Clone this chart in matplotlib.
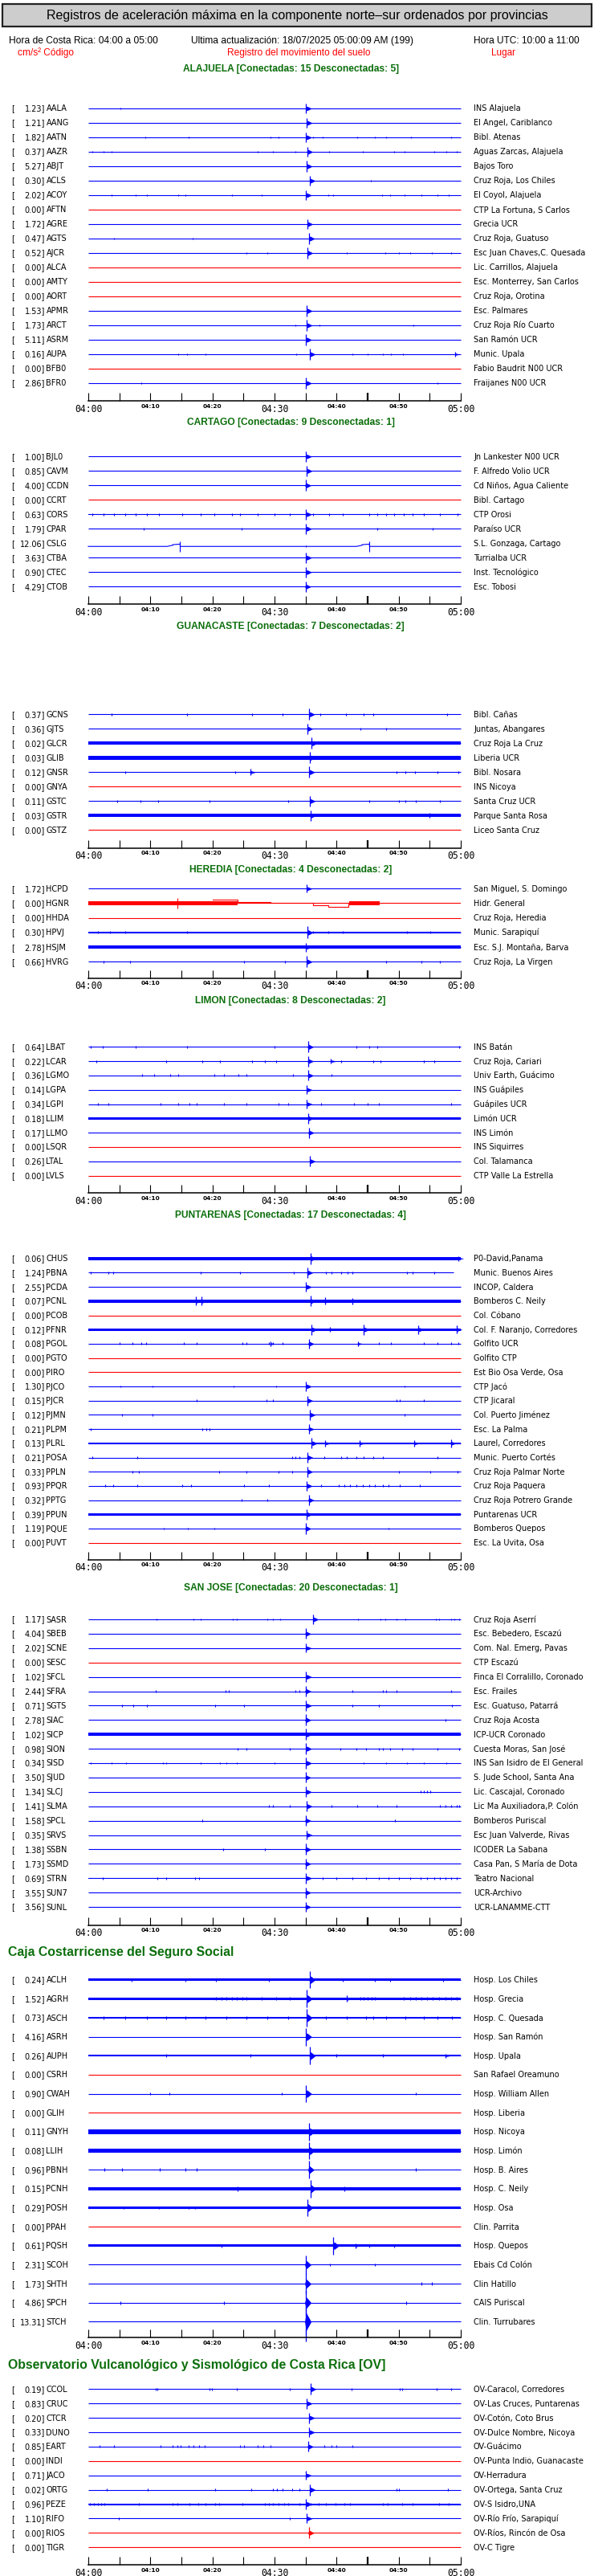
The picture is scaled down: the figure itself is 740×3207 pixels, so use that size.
import matplotlib
matplotlib.use("Agg")
import matplotlib.pyplot as plt
from matplotlib.patches import Rectangle

# ===============================
# DATOS (estaciones por provincia)
# ===============================
alajuela_codes = ["AALA", "AANG", "AATN", "AAZR", "ABJT", "ACLS", "ACOY", "AFTN", "AGRE", "AGTS",
                  "AJCR", "ALCA", "AMTY", "AORT", "APMR", "ARCT", "ASRM", "AUPA", "BFB0", "BFR0"]
alajuela_vals = [1.23, 1.21, 1.82, 0.37, 5.27, 0.30, 2.02, 0.00, 1.72, 0.47,
                 0.52, 0.00, 0.00, 0.00, 1.53, 1.73, 5.11, 0.16, 0.00, 2.86]
alajuela_names = ["INS Alajuela", "El Angel, Cariblanco", "Bibl. Atenas", "Aguas Zarcas, Alajuela",
                  "Bajos Toro", "Cruz Roja, Los Chiles", "El Coyol, Alajuela", "CTP La Fortuna, S Carlos",
                  "Grecia UCR", "Cruz Roja, Guatuso", "Esc Juan Chaves,C. Quesada", "Lic. Carrillos, Alajuela",
                  "Esc. Monterrey, San Carlos", "Cruz Roja, Orotina", "Esc. Palmares", "Cruz Roja Río Cuarto",
                  "San Ramón UCR", "Munic. Upala", "Fabio Baudrit N00 UCR", "Fraijanes N00 UCR"]
# hora del evento principal (minutos despues de 04:00) y semi-amplitud (en alturas de fila)
alajuela_ev_t = [35.1, 35.2, 35.1, 35.3, 35.2, 35.7, 35.1, None, 35.3, 35.6,
                 35.3, None, None, None, 35.2, 35.2, 35.1, 35.7, None, 35.1]
alajuela_ev_a = [0.35, 0.36, 0.36, 0.36, 0.38, 0.36, 0.36, 0, 0.36, 0.38,
                 0.38, 0, 0, 0, 0.39, 0.37, 0.39, 0.37, 0, 0.38]

cartago_codes = ["BJL0", "CAVM", "CCDN", "CCRT", "CORS", "CPAR", "CSLG", "CTBA", "CTEC", "CTOB"]
cartago_vals = [1.00, 0.85, 4.00, 0.00, 0.63, 1.79, 12.06, 3.63, 0.90, 4.29]
cartago_names = ["Jn Lankester N00 UCR", "F. Alfredo Volio UCR", "Cd Niños, Agua Caliente", "Bibl. Cartago",
                 "CTP Orosi", "Paraíso UCR", "S.L. Gonzaga, Cartago", "Turrialba UCR",
                 "Inst. Tecnológico", "Esc. Tobosi"]
cartago_ev_t = [35.1, 35.2, 35.0, None, 35.1, 35.1, None, 35.1, 35.1, 35.0]
cartago_ev_a = [0.35, 0.37, 0.39, 0, 0.36, 0.37, 0, 0.37, 0.37, 0.35]

guanacaste_codes = ["GCNS", "GJTS", "GLCR", "GLIB", "GNSR", "GNYA", "GSTC", "GSTR", "GSTZ"]
guanacaste_vals = [0.37, 0.36, 0.02, 0.03, 0.12, 0.00, 0.11, 0.03, 0.00]
guanacaste_names = ["Bibl. Cañas", "Juntas, Abangares", "Cruz Roja La Cruz", "Liberia UCR", "Bibl. Nosara",
                    "INS Nicoya", "Santa Cruz UCR", "Parque Santa Rosa", "Liceo Santa Cruz"]
guanacaste_ev_t = [35.6, 35.3, 36.0, 35.7, 35.6, None, 35.7, 35.8, None]
guanacaste_ev_a = [0.39, 0.36, 0.39, 0.39, 0.39, 0, 0.36, 0.36, 0]

heredia_codes = ["HCPD", "HGNR", "HHDA", "HPVJ", "HSJM", "HVRG"]
heredia_vals = [1.72, 0.00, 0.00, 0.30, 2.78, 0.66]
heredia_names = ["San Miguel, S. Domingo", "Hidr. General", "Cruz Roja, Heredia", "Munic. Sarapiquí",
                 "Esc. S.J. Montaña, Barva", "Cruz Roja, La Virgen"]
heredia_ev_t = [35.2, None, None, 35.3, 35.1, 35.2]
heredia_ev_a = [0.28, 0, 0, 0.41, 0.30, 0.38]

limon_codes = ["LBAT", "LCAR", "LGMO", "LGPA", "LGPI", "LLIM", "LLMO", "LSQR", "LTAL", "LVLS"]
limon_vals = [0.64, 0.22, 0.36, 0.14, 0.34, 0.18, 0.17, 0.00, 0.26, 0.00]
limon_names = ["INS Batán", "Cruz Roja, Cariari", "Univ Earth, Guácimo", "INS Guápiles", "Guápiles UCR",
               "Limón UCR", "INS Limón", "INS Siquirres", "Col. Talamanca", "CTP Valle La Estrella"]
limon_ev_t = [35.4, 35.4, 35.4, 35.2, 35.2, 35.4, 35.5, None, 35.7, None]
limon_ev_a = [0.39, 0.36, 0.36, 0.31, 0.31, 0.36, 0.36, 0, 0.36, 0]

puntarenas_codes = ["CHUS", "PBNA", "PCDA", "PCNL", "PCOB", "PFNR", "PGOL", "PGTO", "PIRO", "PJCO", "PJCR",
                    "PJMN", "PLPM", "PLRL", "POSA", "PPLN", "PPQR", "PPTG", "PPUN", "PQUE", "PUVT"]
puntarenas_vals = [0.06, 1.24, 2.55, 0.07, 0.00, 0.12, 0.08, 0.00, 0.00, 1.30, 0.15,
                   0.12, 0.21, 0.13, 0.21, 0.33, 0.93, 0.32, 0.39, 1.19, 0.00]
puntarenas_names = ["P0-David,Panama", "Munic. Buenos Aires", "INCOP, Caldera", "Bomberos C. Neily",
                    "Col. Cóbano", "Col. F. Naranjo, Corredores", "Golfito UCR", "Golfito CTP",
                    "Est Bio Osa Verde, Osa", "CTP Jacó", "CTP Jicaral", "Col. Puerto Jiménez",
                    "Esc. La Palma", "Laurel, Corredores", "Munic. Puerto Cortés", "Cruz Roja Palmar Norte",
                    "Cruz Roja Paquera", "Cruz Roja Potrero Grande", "Puntarenas UCR", "Bomberos Quepos",
                    "Esc. La Uvita, Osa"]
puntarenas_ev_t = [35.8, 35.3, 35.1, 35.8, None, 36.0, 35.5, None, None, 35.1, 35.3,
                   35.7, 35.5, 36.0, 35.3, 35.3, 35.2, 35.5, 35.2, 35.0, None]
puntarenas_ev_a = [0.39, 0.36, 0.36, 0.36, 0, 0.36, 0.36, 0, 0, 0.35, 0.35,
                   0.36, 0.33, 0.36, 0.36, 0.36, 0.36, 0.36, 0.36, 0.39, 0]

sanjose_codes = ["SASR", "SBEB", "SCNE", "SESC", "SFCL", "SFRA", "SGTS", "SIAC", "SICP", "SION", "SISD",
                 "SJUD", "SLCJ", "SLMA", "SPCL", "SRVS", "SSBN", "SSMD", "STRN", "SUN7", "SUNL"]
sanjose_vals = [1.17, 4.04, 2.02, 0.00, 1.02, 2.44, 0.71, 2.78, 1.02, 0.98, 0.34,
                3.50, 1.34, 1.41, 1.58, 0.35, 1.38, 1.73, 0.69, 3.55, 3.56]
sanjose_names = ["Cruz Roja Aserrí", "Esc. Bebedero, Escazú", "Com. Nal. Emerg, Pavas", "CTP Escazú",
                 "Finca El Corralillo, Coronado", "Esc. Frailes", "Esc. Guatuso, Patarrá", "Cruz Roja Acosta",
                 "ICP-UCR Coronado", "Cuesta Moras, San José", "INS San Isidro de El General",
                 "S. Jude School, Santa Ana", "Lic. Cascajal, Coronado", "Lic Ma Auxiliadora,P. Colón",
                 "Bomberos Puriscal", "Esc Juan Valverde, Rivas", "ICODER La Sabana",
                 "Casa Pan, S María de Dota", "Teatro Nacional", "UCR-Archivo", "UCR-LANAMME-CTT"]
sanjose_ev_t = [36.2, 35.0, 35.1, None, 35.1, 35.0, 35.1, 35.0, 35.1, 35.1, 35.1,
                35.0, 35.1, 35.2, 35.0, 35.2, 35.0, 35.0, 35.1, 35.0, 35.0]
sanjose_ev_a = [0.36, 0.36, 0.31, 0, 0.36, 0.39, 0.36, 0.39, 0.39, 0.39, 0.39,
                0.36, 0.36, 0.36, 0.36, 0.33, 0.39, 0.36, 0.36, 0.36, 0.36]

ccss_codes = ["ACLH", "AGRH", "ASCH", "ASRH", "AUPH", "CSRH", "CWAH", "GLIH", "GNYH", "LLIH",
              "PBNH", "PCNH", "POSH", "PPAH", "PQSH", "SCOH", "SHTH", "SPCH", "STCH"]
ccss_vals = [0.24, 1.52, 0.73, 4.16, 0.26, 0.00, 0.90, 0.00, 0.11, 0.08,
             0.96, 0.15, 0.29, 0.00, 0.61, 2.31, 1.73, 4.86, 13.31]
ccss_names = ["Hosp. Los Chiles", "Hosp. Grecia", "Hosp. C. Quesada", "Hosp. San Ramón", "Hosp. Upala",
              "San Rafael Oreamuno", "Hosp. William Allen", "Hosp. Liberia", "Hosp. Nicoya", "Hosp. Limón",
              "Hosp. B. Aires", "Hosp. C. Neily", "Hosp. Osa", "Clin. Parrita", "Hosp. Quepos",
              "Ebais Cd Colón", "Clin Hatillo", "CAIS Puriscal", "Clin. Turrubares"]
ccss_ev_t = [35.7, 35.2, 35.2, 35.1, 35.7, None, 35.1, None, 35.6, 35.6,
             35.5, 35.8, 35.3, None, 39.5, 35.0, 35.0, 35.0, 35.0]
ccss_ev_a = [0.44, 0.46, 0.46, 0.46, 0.46, 0, 0.46, 0, 0.46, 0.46,
             0.46, 0.46, 0.46, 0, 0.46, 0.5, 0.55, 0.68, 1.05]

ov_codes = ["CCOL", "CRUC", "CTCR", "DUNO", "EART", "INDI", "JACO", "ORTG", "PEZE", "RIFO", "RIOS", "TIGR"]
ov_vals = [0.19, 0.83, 0.20, 0.33, 0.85, 0.00, 0.71, 0.02, 0.96, 1.10, 0.00, 0.00]
ov_names = ["OV-Caracol, Corredores", "OV-Las Cruces, Puntarenas", "OV-Cotón, Coto Brus",
            "OV-Dulce Nombre, Nicoya", "OV-Guácimo", "OV-Punta Indio, Guanacaste", "OV-Herradura",
            "OV-Ortega, Santa Cruz", "OV-S Isidro,UNA", "OV-Río Frío, Sarapiquí", "OV-Ríos, Rincón de Osa",
            "OV-C Tigre"]
ov_ev_t = [35.8, 35.2, 35.6, 35.6, 35.4, None, 35.1, 35.7, 35.1, 35.2, 35.5, None]
ov_ev_a = [0.40, 0.36, 0.36, 0.36, 0.36, 0, 0.31, 0.39, 0.39, 0.33, 0.39, 0]

# ruido de fondo (semi-ancho de la banda, en alturas de fila)
noise = {"GLCR": 0.12, "GLIB": 0.13, "GSTR": 0.11, "HSJM": 0.09, "HPVJ": 0.04, "LLIM": 0.08,
         "LLMO": 0.03, "CHUS": 0.11, "PCNL": 0.11, "PFNR": 0.08, "PLRL": 0.07, "PPUN": 0.08,
         "SICP": 0.10, "STRN": 0.03, "CORS": 0.03, "ACLH": 0.06, "AGRH": 0.06, "ASCH": 0.03,
         "AUPH": 0.05, "GNYH": 0.12, "LLIH": 0.09, "PCNH": 0.08, "POSH": 0.06, "PQSH": 0.06,
         "PEZE": 0.02}

# picos secundarios (minuto, semi-amplitud)
extra_spikes = {
    "GNSR": [(26.1, 0.22)], "GSTR": [(54.9, 0.17)], "LCAR": [(39.1, 0.17)],
    "CHUS": [(59.6, 0.17)], "AUPA": [(59.1, 0.14)],
    "PCNL": [(17.3, 0.31), (18.2, 0.31), (38.2, 0.25), (42.6, 0.22)],
    "PFNR": [(38.9, 0.17), (44.4, 0.36), (53.2, 0.31), (59.3, 0.28)],
    "PGOL": [(29.3, 0.15), (43.4, 0.17)],
    "PLRL": [(38.2, 0.22), (43.7, 0.22), (52.5, 0.22), (58.4, 0.28)],
    "AGRH": [(41.6, 0.17)], "AUPH": [(57.5, 0.1)], "PCNH": [(24.1, 0.13), (41.3, 0.13)],
    "PQSH": [(43.0, 0.13)], "CSLG": [(14.8, 0.37), (45.3, 0.37)],
}

# pequeñas marcas de ruido (minuto)
blips = {
    "AALA": [5.2], "AATN": [9.2, 16.1, 29.4, 30.6, 36.2, 37.8, 43.3, 46.1, 48.0, 52.0, 58.4],
    "AAZR": [0.7, 2.4, 3.8, 27.3, 29.7, 33.4, 38.8, 44.2, 49.3, 51.0, 55.7, 57.7, 59.3],
    "ACLS": [45.5],
    "ACOY": [3.7, 7.6, 9.4, 14.5, 15.7, 23.1, 27.9, 38.6, 39.5, 47.3, 48.6, 51.0, 53.7, 56.3, 58.1],
    "AGTS": [4.1, 16.8], "AJCR": [25.5, 28.8, 41.6, 47.9, 50.1, 51.8, 55.4, 58.4],
    "ARCT": [33.3, 37.2, 52.4], "AUPA": [14.5, 15.9, 18.9, 33.5, 42.5, 45.0, 47.4, 48.8, 50.7],
    "BFR0": [8.5, 56.3],
    "CORS": [0.7, 2.4, 4.1, 5.9, 7.6, 9.4, 11.4, 15.1, 18.1, 20.3, 23.1, 24.4, 27.3, 30.0, 32.5,
             36.2, 38.8, 41.0, 45.3, 46.5, 48.0, 49.3, 50.8, 52.3, 54.0, 56.6, 59.5],
    "CPAR": [8.9, 24.7, 46.5, 55.5],
    "GCNS": [3.7, 15.9, 26.4, 31.3, 37.4, 41.5, 44.4, 45.9, 57.8], "GJTS": [43.9, 48.0],
    "GNSR": [5.9, 23.6, 49.7, 51.1, 52.6, 56.3, 59.6],
    "GSTC": [4.6, 8.4, 11.3, 19.5, 32.2, 45.2, 50.0, 51.1, 52.7, 56.6],
    "HPVJ": [1.5, 3.5, 5.9, 15.9, 36.2, 38.6, 41.0, 51.4, 55.1],
    "HVRG": [2.4, 6.7, 25.1, 31.7, 48.0, 53.7, 56.6],
    "LBAT": [0.4, 2.3, 7.6, 15.9, 30.0, 43.2, 45.3, 46.5, 59.8],
    "LCAR": [1.3, 12.6, 18.4, 21.2, 26.4, 28.5, 30.2, 40.7, 45.9, 47.1, 54.0, 55.7],
    "LGMO": [8.7, 10.6, 13.2, 14.5, 20.3, 21.8, 24.2, 25.5, 33.0, 39.2],
    "LGPI": [1.5, 3.2, 11.7, 14.5, 16.3, 17.5, 21.8, 25.5, 30.6, 32.2, 37.5, 42.8, 45.0, 46.8, 58.4],
    "PBNA": [0.4, 3.2, 4.0, 18.1, 24.4, 33.1, 38.3, 39.2, 40.7, 41.8, 42.5, 51.4, 52.3, 55.7],
    "PGOL": [5.1, 7.1, 8.5, 9.3, 15.4, 17.5, 24.8, 25.5, 29.1, 29.7, 31.3, 46.8, 48.8, 54.1, 56.3, 58.4, 59.6],
    "PJCO": [5.2, 10.4, 23.4, 30.2, 50.9], "PJCR": [17.4, 28.7, 29.7, 49.6, 50.2, 54.1],
    "PJMN": [5.4, 10.4, 50.9], "PLPM": [0.4, 18.4, 19.0, 19.5],
    "POSA": [0.7, 7.9, 32.8, 33.4, 34.0, 38.0, 40.7, 41.6, 43.2, 44.4, 45.9, 47.4, 56.3],
    "PPLN": [7.1, 8.1, 21.1, 25.5, 30.6, 32.8, 50.0, 55.1, 59.5],
    "PPQR": [2.7, 4.0, 7.9, 15.1, 16.6, 25.1, 29.1, 37.5, 40.4, 41.3, 42.2, 43.2, 44.2, 45.2,
             46.2, 47.4, 48.3, 50.2, 53.4],
    "PPTG": [24.7, 28.8], "PQUE": [12.1, 16.0, 20.3, 48.3],
    "SASR": [11.0, 16.9, 18.1, 23.3, 23.9, 28.8, 29.8, 30.9, 43.5, 47.1, 47.9, 49.6, 51.1, 56.0,
             56.5, 58.4, 59.0, 59.8],
    "SFRA": [10.8, 22.1, 22.6, 33.4, 34.0, 42.5, 47.4, 48.0, 49.6, 58.4],
    "SGTS": [5.4, 7.3, 9.4, 20.4, 25.1, 42.5, 46.8, 58.6], "SIAC": [57.5],
    "SION": [24.1, 25.5, 32.4, 40.6, 43.2, 44.7, 46.8, 47.4, 48.6, 50.5, 52.3, 56.3, 59.8],
    "SISD": [0.4, 3.8, 6.1, 12.0, 12.6, 18.1, 21.2, 22.3, 23.9, 30.0, 44.4, 48.0, 51.4, 54.1, 57.7],
    "SLCJ": [53.5, 54.0, 54.6, 55.1],
    "SLMA": [29.1, 29.7, 32.4, 39.2, 43.3, 46.5, 49.7, 56.6, 57.5, 58.4, 59.3, 59.8],
    "SPCL": [18.4, 49.4], "SSBN": [21.7, 28.4],
    "STRN": [2.3, 11.1, 12.6, 17.2, 17.8, 37.7, 40.0, 42.5, 44.7, 46.8, 48.3, 50.0, 51.8, 53.5,
             54.6, 55.7, 56.6, 57.5, 58.4, 59.3],
    "ACLH": [7.0, 15.6, 20.5, 29.1, 41.0, 46.2, 48.6, 57.1],
    "AGRH": [20.6, 21.5, 22.3, 23.1, 23.9, 24.8, 25.5, 27.9, 30.2, 32.5, 43.8, 44.4, 45.0, 45.6,
             46.2, 50.8, 51.8, 52.7, 53.7, 54.6, 55.5, 56.5, 57.5, 58.4, 59.3],
    "ASCH": [2.4, 5.9, 9.4, 12.6, 15.7, 18.9, 22.3, 25.5, 28.8, 32.2, 38.3, 41.6, 44.7, 45.9,
             48.0, 51.1, 54.1, 56.3, 58.6],
    "AUPH": [12.5, 26.1, 40.0, 47.4], "CWAH": [10.0, 13.1, 31.1, 52.8],
    "PBNH": [2.6, 5.4, 11.5, 15.7, 17.5, 52.8], "POSH": [5.7, 11.4, 16.1, 17.2],
    "PQSH": [21.5, 45.2, 49.3], "SCOH": [38.9, 46.2], "SHTH": [53.7, 55.4], "SPCH": [5.2, 21.8, 51.2],
    "CCOL": [10.8, 11.1, 19.5, 19.9, 23.9, 32.5, 42.4, 50.2, 50.5, 56.1, 58.5],
    "EART": [1.8, 4.1, 11.7, 13.6, 14.3, 14.9, 16.1, 16.9, 17.9, 18.8, 24.4, 25.1, 27.3, 28.2,
             29.4, 38.0, 39.2, 40.0, 42.5],
    "ORTG": [3.0, 9.6, 20.4, 26.2, 29.8, 30.4, 31.3, 32.9, 34.0, 49.6, 50.1, 57.9],
    "PEZE": [0.3, 0.9, 1.5, 2.1, 2.6, 8.2, 13.6, 14.3, 16.3, 17.7, 18.9, 20.4, 21.1, 24.8, 28.5,
             29.1, 29.7, 30.6, 31.6, 32.2, 34.0, 35.8, 37.1, 38.3, 39.8, 41.3, 42.2, 47.4, 48.2,
             50.5, 52.3, 56.5, 58.0],
    "RIFO": [4.9, 32.4],
}

# trazos especiales: (minuto, desplazamiento en alturas de fila)
cslg_trace_t = [0, 12.7, 13.6, 13.6, 14.8, 14.8, 43.2, 44.1, 44.1, 45.3, 45.3, 60]
cslg_trace_y = [0, 0, -0.08, -0.12, -0.16, 0, 0, -0.08, -0.12, -0.16, 0, 0]
hgnr_bands = [(0, 24.0), (42.0, 47.0)]
hgnr_drift_t = [20.1, 24.0, 24.0, 29.4, 29.4, 36.2, 36.2, 38.6, 38.6, 41.9, 41.9]
hgnr_drift_y = [-0.24, -0.24, -0.10, -0.10, 0, 0, 0.13, 0.13, 0.26, 0.26, 0]
hgnr_spike = (14.3, 0.38)
trace_end = {"PBNA": 58.8}

tick_labels = ["04:00", "", "04:10", "", "04:20", "", "04:30", "", "04:40", "", "04:50", "", "05:00"]

# ===============================
# DISEÑO (pixeles de la figura 740 x 3207)
# ===============================
W, H = 740, 3207
X0, X1 = 110, 574
BLUE = "#0000ff"
RED = "#ff0000"
GREEN = "#0b6e0b"
NARROW = ["Liberation Sans Narrow", "Liberation Sans", "DejaVu Sans"]

sections = [
    ("ALAJUELA", alajuela_codes, alajuela_vals, alajuela_names, alajuela_ev_t, alajuela_ev_a, 135.0, 18.0, 499.3, 86),
    ("CARTAGO", cartago_codes, cartago_vals, cartago_names, cartago_ev_t, cartago_ev_a, 568.3, 18.0, 752.3, 526),
    ("GUANACASTE", guanacaste_codes, guanacaste_vals, guanacaste_names, guanacaste_ev_t, guanacaste_ev_a, 889.3, 18.0, 1055.7, 780),
    ("HEREDIA", heredia_codes, heredia_vals, heredia_names, heredia_ev_t, heredia_ev_a, 1106.3, 18.2, 1218.0, 1083),
    ("LIMON", limon_codes, limon_vals, limon_names, limon_ev_t, limon_ev_a, 1303.3, 17.8, 1485.3, 1246),
    ("PUNTARENAS", puntarenas_codes, puntarenas_vals, puntarenas_names, puntarenas_ev_t, puntarenas_ev_a, 1566.7, 17.7, 1942.0, 1513),
    ("SAN JOSE", sanjose_codes, sanjose_vals, sanjose_names, sanjose_ev_t, sanjose_ev_a, 2016.0, 17.9, 2397.0, 1977),
    ("Caja Costarricense del Seguro Social", ccss_codes, ccss_vals, ccss_names, ccss_ev_t, ccss_ev_a, 2464.7, 23.65, 2910.3, 2430),
    ("Observatorio Vulcanológico y Sismológico de Costa Rica [OV]", ov_codes, ov_vals, ov_names, ov_ev_t, ov_ev_a, 2974.3, 17.9, 3193.3, 2944),
]

fig = plt.figure(figsize=(W / 100, H / 100), dpi=100)
fig.patch.set_facecolor("white")
renderer = fig.canvas.get_renderer()

bg = fig.add_axes([0, 0, 1, 1])
bg.set_xlim(0, W)
bg.set_ylim(H, 0)
bg.axis("off")


def fit(txt, target_w):
    # ajusta el tamaño de letra para que el texto tenga el ancho del original
    w = txt.get_window_extent(renderer).width
    txt.set_fontsize(txt.get_fontsize() * target_w / w)
    return txt.get_fontsize()


# ===============================
# ENCABEZADO
# ===============================
bg.add_patch(Rectangle((3, 5), 734, 28, facecolor="#cdcdcd", edgecolor="#222222", lw=1.6))
fit(bg.text(370, 19.5, "Registros de aceleración máxima en la componente norte\u2013sur ordenados por provincias",
            ha="center", va="center", fontsize=12, family=NARROW), 625)
fit(bg.text(11, 51, "Hora de Costa Rica: 04:00 a 05:00", ha="left", va="center", fontsize=9, family=NARROW), 185)
fit(bg.text(238, 51, "Ultima actualización: 18/07/2025 05:00:09 AM (199)", ha="left", va="center",
            fontsize=9, family=NARROW), 276)
fit(bg.text(590, 51, "Hora UTC: 10:00 a 11:00", ha="left", va="center", fontsize=9, family=NARROW), 133)
fit(bg.text(22, 66, "cm/s² Código", ha="left", va="center", fontsize=9, family=NARROW, color=RED), 70)
fit(bg.text(372, 66, "Registro del movimiento del suelo", ha="center", va="center", fontsize=9,
            family=NARROW, color=RED), 179)
fit(bg.text(612, 66, "Lugar", ha="left", va="center", fontsize=9, family=NARROW, color=RED), 30)


def draw_event(ax, t, y, a, color):
    ax.vlines(t, y - a, y + a, color=color, lw=0.9, clip_on=False)
    ax.fill_between([t - 0.15, t + 0.1, t + 0.9], [y, y - 0.45 * a, y], [y, y + 0.45 * a, y],
                    color=color, lw=0, clip_on=False)


head_size = None
for title, codes, vals, names, ev_t, ev_a, first, sp, axis_y, head_y in sections:
    n = len(codes)
    top_px = first - sp
    ax = fig.add_axes([X0 / W, 1 - axis_y / H, (X1 - X0) / W, (axis_y - top_px) / H])
    ax.set_xlim(0, 60)
    ax.set_ylim((axis_y - first) / sp, -1)
    ax.patch.set_alpha(0)
    for s in ["left", "right", "top"]:
        ax.spines[s].set_visible(False)
    ax.spines["bottom"].set_linewidth(1.1)
    ax.set_yticks([])
    ax.set_xticks(range(0, 61, 5))
    ax.set_xticklabels(tick_labels)
    ax.tick_params(axis="x", direction="in", length=7, width=0.8, pad=2.5)
    for i, lbl in enumerate(ax.get_xticklabels()):
        if i % 6 == 0:
            lbl.set_family("DejaVu Sans Mono")
            lbl.set_fontsize(8.3)
        else:
            lbl.set_family("DejaVu Sans")
            lbl.set_fontweight("bold")
            lbl.set_fontsize(5.3)
    ax.xaxis.get_major_ticks()[9].tick1line.set_markeredgewidth(1.6)

    # titulo de la seccion
    n_on = sum(1 for v in vals if v > 0)
    if title.startswith("Caja"):
        fit(bg.text(10, head_y, title, ha="left", va="center", fontsize=13, fontweight="bold",
                    family=NARROW, color=GREEN), 282)
    elif title.startswith("Observatorio"):
        fit(bg.text(10, head_y, title, ha="left", va="center", fontsize=13, fontweight="bold",
                    family=NARROW, color=GREEN), 471)
    else:
        t = bg.text(362, head_y, f"{title} [Conectadas: {n_on} Desconectadas: {n - n_on}]",
                    ha="center", va="center", fontsize=head_size or 10, fontweight="bold",
                    family=NARROW, color=GREEN)
        if head_size is None:
            head_size = fit(t, 268)

    for i, code in enumerate(codes):
        y_px = first + i * sp
        color = BLUE if vals[i] > 0 else RED
        # etiquetas
        bg.text(14, y_px + 3.5, "[", ha="left", va="baseline", fontsize=7)
        bg.text(56, y_px + 3.5, f"{vals[i]:.2f}]", ha="right", va="baseline", fontsize=7)
        bg.text(57.5, y_px + 3.5, code, ha="left", va="baseline", fontsize=7)
        bg.text(590, y_px + 3.5, names[i], ha="left", va="baseline", fontsize=7)

        # trazo
        if code == "CSLG":
            yy = i + 0.22
            ax.plot(cslg_trace_t, [yy + d for d in cslg_trace_y], color=color, lw=0.8, clip_on=False)
            for t, a in extra_spikes["CSLG"]:
                ax.vlines(t, yy - a, yy + a, color=color, lw=0.8, clip_on=False)
            ax.vlines(35.1, yy - 0.05, yy + 0.05, color=color, lw=0.8)
            continue
        if code == "HGNR":
            ax.hlines(i, 0, 60, color=color, lw=0.8)
            for t0, t1 in hgnr_bands:
                ax.fill_between([t0, t1], i - 0.16, i + 0.16, color=color, lw=0)
            ax.plot(hgnr_drift_t, [i + d for d in hgnr_drift_y], color=color, lw=0.8)
            t, a = hgnr_spike
            ax.vlines(t, i - a, i + a, color=color, lw=0.8)
            continue

        ax.hlines(i, 0, trace_end.get(code, 60), color=color, lw=0.8, clip_on=False)
        if code in noise:
            ax.fill_between([0, trace_end.get(code, 60)], i - noise[code], i + noise[code], color=color, lw=0)
        if code in blips:
            ax.vlines(blips[code], i - 0.08, i + 0.08, color=color, lw=0.8)
        if ev_t[i] is not None:
            draw_event(ax, ev_t[i], i, ev_a[i], color)
        for t, a in extra_spikes.get(code, []):
            draw_event(ax, t, i, a, color)

fig.savefig("out.png", dpi=100, facecolor="white")
